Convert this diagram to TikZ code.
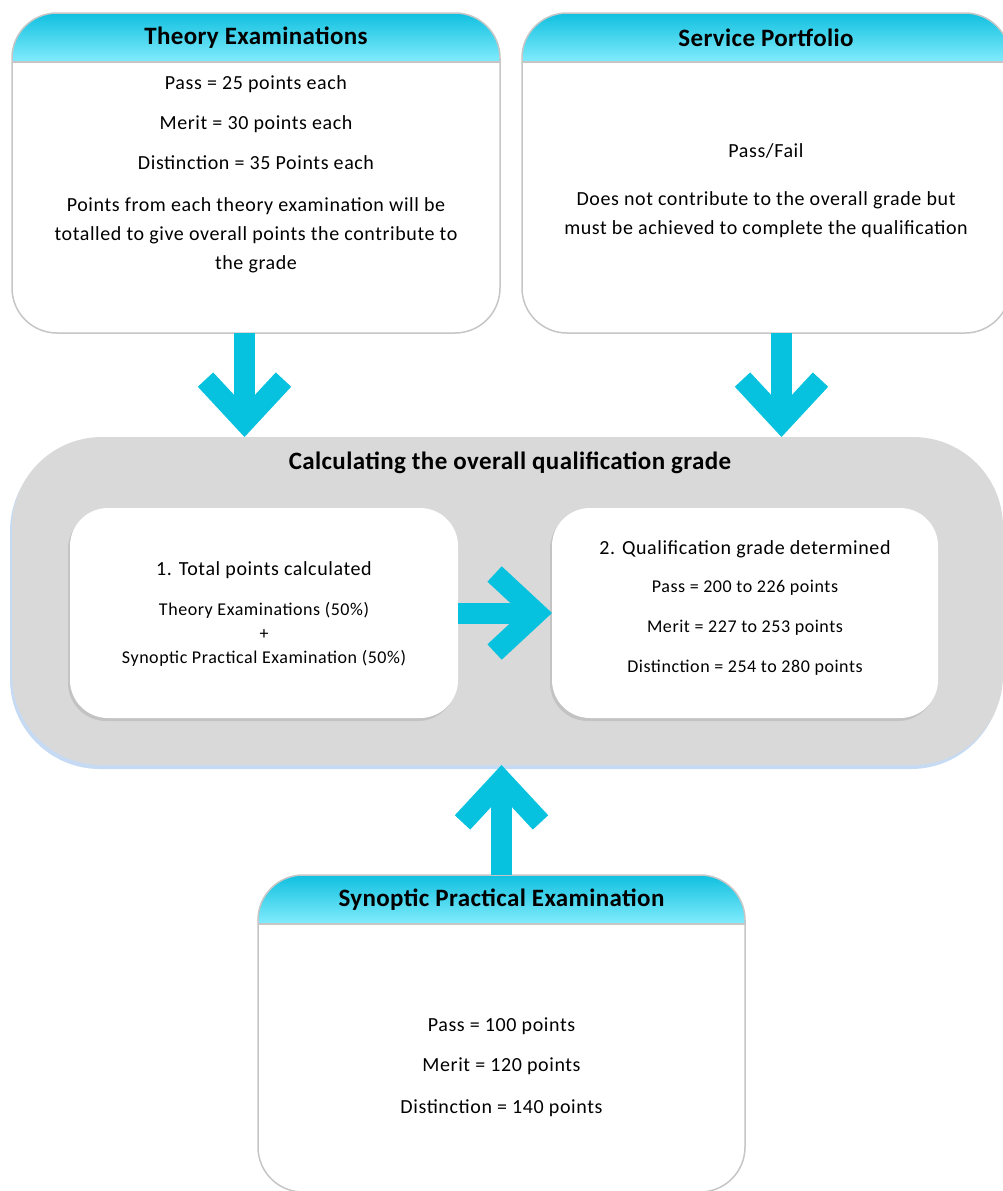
\documentclass[tikz,border=0pt]{standalone}
\usepackage{fontspec}
\setmainfont{Carlito}
\newfontfamily\spaced[LetterSpace=3]{Carlito}
\newfontfamily\spacedhd[LetterSpace=1.5]{Carlito}
\usetikzlibrary{arrows.meta,positioning,shadows}
\definecolor{hdtop}{RGB}{16,192,224}
\definecolor{hdbot}{RGB}{130,236,252}
\definecolor{arrcyan}{RGB}{6,194,222}
\definecolor{boxline}{RGB}{198,198,198}
\definecolor{calcgrey}{RGB}{217,217,217}
\definecolor{glow}{RGB}{160,195,235}

\begin{document}
\begin{tikzpicture}[x=1pt, y=-1pt, every node/.style={inner sep=0pt, outer sep=0pt}]
    \tikzset{
        card/.style={fill=white, minimum width=488pt},
        inner/.style={fill=white, rounded corners=38pt, minimum height=210pt,
            drop shadow={shadow xshift=-2pt, shadow yshift=-3pt, opacity=0.15, fill=black!70}},
        head/.style={font=\fontsize{25}{28}\spacedhd\bfseries},
        txt/.style={align=center, font=\fontsize{20}{29}\spaced},
        small/.style={align=center, font=\fontsize{18}{24}\spaced},
        arr/.style={draw=arrcyan, line width=21pt, -{Straight Barb[length=42pt, width=78pt]}}
    }
    \useasboundingbox (0,0) rectangle (1003,1191);
    \clip (0,0) rectangle (1003,1191);
    \fill[white] (0,0) rectangle (1003,1191);

    \node[card, minimum height=320pt] (theory) at (256,173) {};
    \node[card, minimum height=320pt] (service) at (766,173) {};
    \node[card, minimum width=487pt, minimum height=317pt] (synoptic) at (501.5,1033.5) {};
    \foreach \c in {theory,service,synoptic} {
        \begin{scope}
            \clip[rounded corners=45pt] (\c.north west) rectangle (\c.south east);
            \shade[top color=hdtop, bottom color=hdbot] (\c.north west) rectangle ([yshift=-49pt]\c.north east);
        \end{scope}
        \draw[boxline, line width=1.5pt] ([yshift=-49pt]\c.north west) -- ([yshift=-49pt]\c.north east);
        \draw[boxline, line width=1.5pt, rounded corners=45pt] (\c.north west) rectangle (\c.south east);
    }

    \node[head] (theoryhd) at ([yshift=-24.5pt]theory.north) {Theory Examinations};
    \node[txt, anchor=north] (theorytxt) at (256,76) {Pass = 25 points each\\[11pt]
        Merit = 30 points each\\[11pt] Distinction = 35 Points each\\[13pt]
        Points from each theory examination will be\\
        totalled to give overall points the contribute to\\ the grade};

    \node[head] (servicehd) at ([yshift=-24.5pt]service.north) {Service Portfolio};
    \node[txt, anchor=north] (servicetxt) at (766,144) {Pass/Fail\\[19pt]
        Does not contribute to the overall grade but\\
        must be achieved to complete the qualification};

    \node[fill=calcgrey, rounded corners=90pt, minimum width=991pt, minimum height=328pt,
        drop shadow={shadow xshift=-2pt, shadow yshift=-4pt, opacity=0.6, fill=glow}] (calc) at (507.5,601) {};
    \node[head] (calchd) at (510,463) {Calculating the overall qualification grade};
    \node[inner, minimum width=388pt] (total) at (264,613) {};
    \node[inner, minimum width=386pt] (grade) at (745,613) {};
    \node[txt] (totalhd) at (264,570) {1. Total points calculated};
    \node[small, anchor=north] (totaltxt) at (264,602) {Theory Examinations (50\%)\\ +\\
        Synoptic Practical Examination (50\%)};
    \node[txt] (gradehd) at (745,549) {2. Qualification grade determined};
    \node[small, anchor=north] (gradetxt) at (745,580) {Pass = 200 to 226 points\\[16pt]
        Merit = 227 to 253 points\\[16pt] Distinction = 254 to 280 points};

    \node[head] (synoptichd) at ([yshift=-24.5pt]synoptic.north) {Synoptic Practical Examination};
    \node[txt, anchor=north] (synoptictxt) at (501.5,1018) {Pass = 100 points\\[11pt]
        Merit = 120 points\\[13pt] Distinction = 140 points};

    \draw[arr] ([xshift=-11.5pt]theory.south) -- ([xshift=-11.5pt]theory.south |- calc.north);
    \draw[arr] ([xshift=15.5pt]service.south) -- ([xshift=15.5pt]service.south |- calc.north);
    \draw[arr] (total.east) -- (grade.west);
    \draw[arr] (synoptic.north) -- (synoptic.north |- calc.south);
\end{tikzpicture}
\end{document}
